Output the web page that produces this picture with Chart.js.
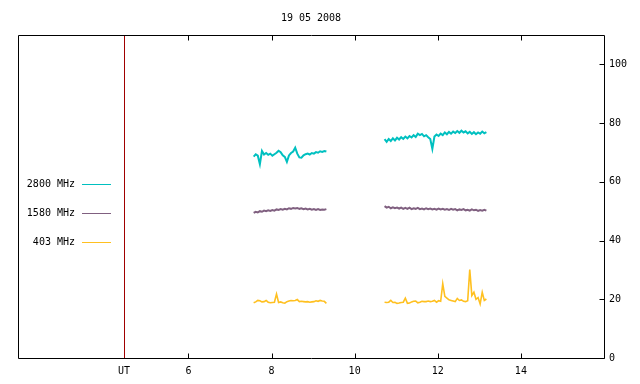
<!DOCTYPE html>
<html><head><meta charset="utf-8">
<script src="https://cdn.jsdelivr.net/npm/chart.js@4/dist/chart.umd.min.js"></script>
<style>html,body{margin:0;padding:0;background:#fff}#wrap{width:640px;height:384px}</style>
</head><body><div id="wrap"><canvas id="c" width="640" height="384"></canvas></div>
<script>
// ---- data ----
const titleText = '19 05 2008';
const seriesLabels = ['2800 MHz', '1580 MHz', '403 MHz'];
const xTickValues = [6, 8, 10, 12, 14];
const yTickValues = [0, 20, 40, 60, 80, 100];
const utMarker = 4.45;
const utLabel = 'UT';

const time1 = [7.57,7.62,7.67,7.72,7.77,7.82,7.87,7.92,7.97,8.02,8.07,8.12,8.17,8.22,8.27,8.32,8.37,8.42,8.47,8.52,
  8.57,8.62,8.67,8.72,8.77,8.82,8.87,8.92,8.97,9.02,9.07,9.12,9.17,9.22,9.27,9.32];
const time2 = [10.72,10.77,10.82,10.87,10.92,10.97,11.02,11.07,11.12,11.17,11.22,11.27,11.32,11.37,11.42,11.47,11.52,11.57,11.62,11.67,
  11.72,11.77,11.82,11.87,11.92,11.97,12.02,12.07,12.12,12.17,12.22,12.27,12.32,12.37,12.42,12.47,12.52,12.57,12.62,12.67,
  12.72,12.77,12.82,12.87,12.92,12.97,13.02,13.07,13.12,13.17];

const f2800a = [68.6,69.4,68.9,66.0,70.5,69.3,69.8,69.2,69.6,68.9,69.4,69.9,70.6,70.1,69.0,68.5,66.8,69.0,69.8,70.3,
  71.6,69.6,68.3,68.2,69.0,69.4,69.6,69.3,69.8,69.6,70.1,69.9,70.4,70.2,70.5,70.3];
const f2800b = [74.5,73.6,74.6,73.9,74.8,74.1,75.0,74.4,75.2,74.6,75.4,74.8,75.6,75.1,75.9,75.3,76.4,75.9,76.3,75.5,
  75.9,75.2,74.6,71.2,75.4,76.1,75.6,76.4,75.9,76.8,76.2,77.0,76.4,77.1,76.6,77.3,76.7,77.4,76.8,77.2,
  76.5,77.0,76.3,76.9,76.2,76.8,76.4,77.1,76.5,76.9];
const f1580a = [49.4,49.8,49.6,50.0,49.8,50.2,50.0,50.3,50.1,50.4,50.2,50.6,50.4,50.7,50.5,50.8,50.6,51.0,50.8,51.1,
  50.9,51.1,50.8,51.0,50.7,50.9,50.6,50.8,50.5,50.7,50.4,50.7,50.4,50.6,50.5,50.7];
const f1580b = [51.7,51.2,51.5,51.0,51.3,51.0,51.2,50.9,51.2,50.8,51.1,50.8,51.2,50.7,51.0,50.8,51.1,50.7,50.9,50.6,
  51.0,50.7,50.9,50.6,50.8,50.5,50.9,50.6,50.8,50.5,50.7,50.4,50.8,50.5,50.7,50.3,50.6,50.4,50.7,50.3,
  50.5,50.2,50.6,50.3,50.5,50.1,50.4,50.2,50.5,50.2];
const f403a = [18.8,19.1,19.6,19.5,19.1,19.2,19.6,19.0,18.8,18.9,19.0,21.8,18.9,19.1,18.8,18.7,19.2,19.4,19.6,19.5,
  19.6,19.9,19.2,19.3,19.2,19.1,19.2,19.0,19.1,19.2,19.5,19.3,19.6,19.4,19.3,18.6];
const f403b = [19.0,18.9,19.0,19.6,18.9,19.0,18.6,18.7,18.9,19.0,20.4,18.6,18.7,19.1,19.3,19.4,18.8,19.0,19.3,19.2,
  19.2,19.4,19.2,19.3,19.6,19.0,19.5,19.3,25.3,21.0,20.4,19.8,19.6,19.4,19.2,20.3,19.6,19.8,19.3,19.2,
  19.5,30.1,21.3,22.4,20.0,20.6,18.4,22.4,19.6,20.1];

// ---- build ----
const FONT = {family: "'DejaVu Sans Mono', monospace", size: 10, weight: 'normal'};
function joinSegments(a, b) {
  const pts = time1.map((t, i) => ({x: t, y: a[i]}));
  pts.push({x: (time1[time1.length - 1] + time2[0]) / 2, y: null});
  time2.forEach((t, i) => pts.push({x: t, y: b[i]}));
  return pts;
}
const colors = ['#00c0c0', '#806080', '#ffc020'];
const widths = [2, 2, 1.6];
const datasets = [
  {label: seriesLabels[0], data: joinSegments(f2800a, f2800b)},
  {label: seriesLabels[1], data: joinSegments(f1580a, f1580b)},
  {label: seriesLabels[2], data: joinSegments(f403a, f403b)}
].map((d, i) => Object.assign(d, {borderColor: colors[i], backgroundColor: colors[i], borderWidth: widths[i],
  pointRadius: 0, tension: 0, spanGaps: false, fill: false}));

const framePlugin = {
  id: 'frame',
  afterLayout(chart) {
    const t = chart.titleBlock;
    if (t) { t.left = chart.chartArea.left; t.right = chart.chartArea.right; }
  },
  beforeDatasetsDraw(chart) {
    const {ctx, chartArea: a, scales: {x}} = chart;
    const px = Math.round(x.getPixelForValue(utMarker)) + 0.5;
    ctx.save();
    ctx.strokeStyle = '#a00000'; ctx.lineWidth = 1;
    ctx.beginPath(); ctx.moveTo(px, a.top); ctx.lineTo(px, a.bottom); ctx.stroke();
    ctx.restore();
  },
  afterDraw(chart) {
    const {ctx, chartArea: a, scales: {x, y}} = chart;
    const L = Math.floor(a.left) + 0.5, R = Math.floor(a.right) + 0.5;
    const T = Math.floor(a.top) + 0.5, B = Math.floor(a.bottom) + 0.5;
    ctx.save();
    ctx.strokeStyle = '#000'; ctx.lineWidth = 1;
    ctx.beginPath();
    ctx.moveTo(L, T); ctx.lineTo(R, T); ctx.lineTo(R, B); ctx.lineTo(L, B); ctx.closePath();
    xTickValues.forEach(v => {
      const p = Math.round(x.getPixelForValue(v)) + 0.5;
      ctx.moveTo(p, B); ctx.lineTo(p, B - 5);
      ctx.moveTo(p, T); ctx.lineTo(p, T + 5);
    });
    yTickValues.forEach(v => {
      const p = Math.round(y.getPixelForValue(v)) + 0.5;
      ctx.moveTo(R, p); ctx.lineTo(R - 5, p);
    });
    ctx.stroke();
    // legend
    ctx.font = "10px 'DejaVu Sans Mono', monospace";
    ctx.fillStyle = '#000'; ctx.textAlign = 'right'; ctx.textBaseline = 'middle';
    const ys = [184, 213, 242];
    chart.data.datasets.forEach((d, i) => {
      ctx.fillText(d.label, 75, ys[i]);
      ctx.strokeStyle = d.borderColor; ctx.lineWidth = 1;
      ctx.beginPath(); ctx.moveTo(82, ys[i] + 0.5); ctx.lineTo(111, ys[i] + 0.5); ctx.stroke();
    });
    ctx.restore();
  }
};

new Chart(document.getElementById('c'), {
  type: 'line',
  data: {datasets},
  plugins: [framePlugin],
  options: {
    responsive: false, animation: false, devicePixelRatio: 1,
    layout: {padding: {left: 18, right: 0, top: 0, bottom: 0}},
    plugins: {
      legend: {display: false}, tooltip: {enabled: false},
      title: {display: true, text: titleText, font: FONT, color: '#000', padding: {top: 12, bottom: 11}}
    },
    scales: {
      x: {
        type: 'linear', min: 1.9, max: 16,
        afterBuildTicks: s => { s.ticks = [utMarker, ...xTickValues].map(v => ({value: v})); },
        ticks: {autoSkip: false, maxRotation: 0, font: FONT, color: '#000', padding: 7,
          callback: v => (v === utMarker ? utLabel : String(v))},
        grid: {display: false, drawTicks: false}, border: {display: false},
        afterFit: s => { s.height = 26; }
      },
      y: {
        type: 'linear', position: 'right', min: 0, max: 110,
        afterBuildTicks: s => { s.ticks = yTickValues.map(v => ({value: v})); },
        ticks: {font: FONT, color: '#000', padding: 5},
        grid: {display: false, drawTicks: false}, border: {display: false},
        afterFit: s => { s.width = 36; }
      }
    }
  }
});
</script></body></html>
